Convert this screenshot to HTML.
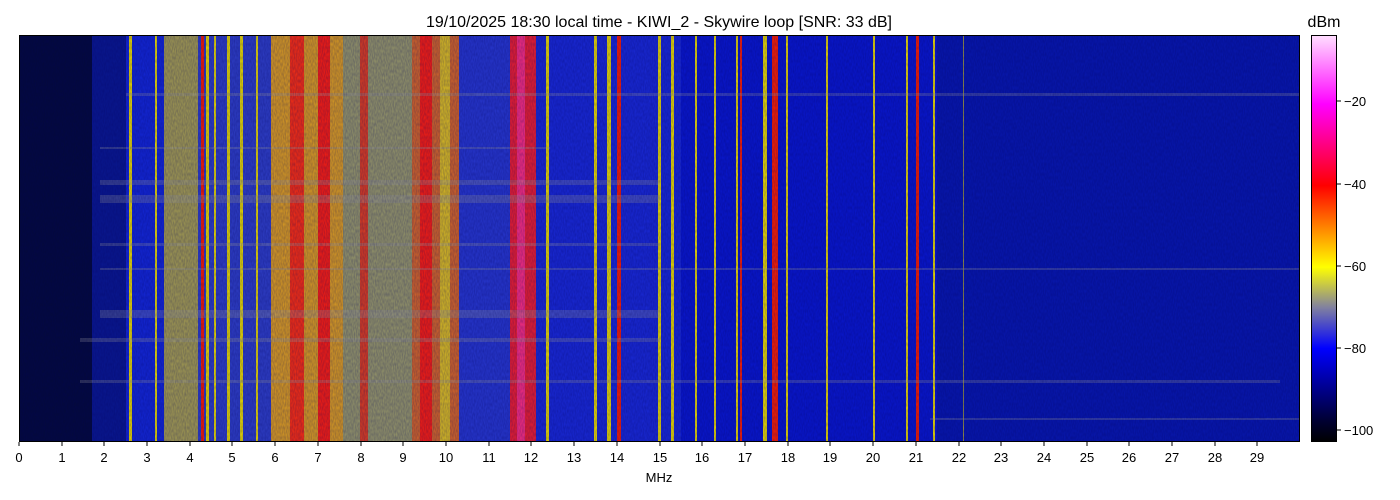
<!DOCTYPE html>
<html><head><meta charset="utf-8"><style>
html,body{margin:0;padding:0;background:#fff;font-family:"Liberation Sans","DejaVu Sans",sans-serif;}
svg{display:block;}
</style></head><body>
<svg width="1400" height="500" xmlns="http://www.w3.org/2000/svg" font-family="Liberation Sans, DejaVu Sans, sans-serif">
<defs>
<linearGradient id="cb" x1="0" y1="1" x2="0" y2="0">
<stop offset="0" stop-color="#000000"/>
<stop offset="0.05" stop-color="#000030"/>
<stop offset="0.23" stop-color="#0000ff"/>
<stop offset="0.33" stop-color="#8080a0"/>
<stop offset="0.43" stop-color="#ffff00"/>
<stop offset="0.53" stop-color="#ff8000"/>
<stop offset="0.63" stop-color="#ff0000"/>
<stop offset="0.73" stop-color="#ff0080"/>
<stop offset="0.83" stop-color="#ff00ff"/>
<stop offset="1" stop-color="#ffe0ff"/>
</linearGradient>
<filter id="n" filterUnits="userSpaceOnUse" x="19" y="35" width="1281" height="407"><feTurbulence type="fractalNoise" baseFrequency="0.9 0.3" numOctaves="1" seed="3"/><feColorMatrix values="0 0 0 0 0  0 0 0 0 0  0 0 0 0 0.1  0 0 0 0.4 0"/></filter>
<clipPath id="pc"><rect x="19" y="35" width="1281" height="407"/></clipPath>
</defs>
<text x="659" y="27" font-size="16" text-anchor="middle">19/10/2025 18:30 local time - KIWI_2 - Skywire loop [SNR: 33 dB]</text>
<text x="1324" y="27" font-size="16" text-anchor="middle">dBm</text>
<g clip-path="url(#pc)">
<rect x="19" y="35" width="1281" height="407" fill="#0818b8"/>
<rect x="19" y="35" width="73" height="407" fill="#040a3a"/>
<rect x="92" y="35" width="34" height="407" fill="#0a1890"/>
<rect x="126" y="35" width="39" height="407" fill="#1428d8"/>
<rect x="164" y="35" width="35" height="407" fill="#a8a050"/>
<rect x="198" y="35" width="73" height="407" fill="#3040c8"/>
<rect x="271" y="35" width="73" height="407" fill="#e0a020"/>
<rect x="343" y="35" width="69" height="407" fill="#9a9a68"/>
<rect x="412" y="35" width="47" height="407" fill="#d86828"/>
<rect x="459" y="35" width="51" height="407" fill="#2838d0"/>
<rect x="510" y="35" width="26" height="407" fill="#f02030"/>
<rect x="536" y="35" width="145" height="407" fill="#1a2ad8"/>
<rect x="681" y="35" width="256" height="407" fill="#0a18d0"/>
<rect x="937" y="35" width="363" height="407" fill="#0818b0"/>
<rect x="290" y="35" width="14" height="407" fill="#ff3010"/>
<rect x="318" y="35" width="12" height="407" fill="#ff2010"/>
<rect x="360" y="35" width="8" height="407" fill="#e04020"/>
<rect x="420" y="35" width="12" height="407" fill="#ff2010"/>
<rect x="440" y="35" width="10" height="407" fill="#e0c020"/>
<rect x="517" y="35" width="8" height="407" fill="#ff3080"/>
<g fill="#f0e000">
<rect x="129" y="35" width="3" height="407"/><rect x="155" y="35" width="2" height="407"/>
<rect x="206" y="35" width="3" height="407"/><rect x="214" y="35" width="2" height="407"/>
<rect x="227" y="35" width="3" height="407"/><rect x="240" y="35" width="3" height="407"/>
<rect x="256" y="35" width="2" height="407"/><rect x="546" y="35" width="3" height="407"/>
<rect x="594" y="35" width="3" height="407"/><rect x="607" y="35" width="4" height="407"/>
<rect x="658" y="35" width="3" height="407"/><rect x="671" y="35" width="3" height="407"/>
<rect x="695" y="35" width="2" height="407"/><rect x="714" y="35" width="2" height="407"/>
<rect x="736" y="35" width="2" height="407"/><rect x="763" y="35" width="4" height="407"/>
<rect x="786" y="35" width="2" height="407"/><rect x="826" y="35" width="2" height="407"/>
<rect x="873" y="35" width="2" height="407"/><rect x="906" y="35" width="2" height="407"/>
<rect x="933" y="35" width="2" height="407"/><rect x="963" y="35" width="1" height="407" opacity="0.6"/>
</g>
<g fill="#ff2000">
<rect x="201" y="35" width="3" height="407"/><rect x="617" y="35" width="4" height="407"/>
<rect x="772" y="35" width="6" height="407"/><rect x="916" y="35" width="3" height="407"/>
<rect x="740" y="35" width="2" height="407"/>
</g>
<g fill="#a0a0a0" opacity="0.3">
<rect x="126" y="93" width="1174" height="3"/>
<rect x="100" y="147" width="450" height="2"/>
<rect x="100" y="180" width="560" height="5"/>
<rect x="100" y="195" width="560" height="8"/>
<rect x="100" y="243" width="560" height="3"/>
<rect x="100" y="268" width="1200" height="2"/>
<rect x="100" y="310" width="560" height="8"/>
<rect x="80" y="338" width="580" height="4"/>
<rect x="80" y="380" width="1200" height="3"/>
<rect x="930" y="418" width="370" height="2"/>
</g>
<rect x="19" y="35" width="1281" height="407" filter="url(#n)"/>
</g>
<rect x="19.5" y="35.5" width="1280" height="406" fill="none" stroke="#000" stroke-width="1"/>
<g font-size="13" text-anchor="middle">
<g stroke="#000">
<line x1="19" y1="442" x2="19" y2="446"/><line x1="62" y1="442" x2="62" y2="446"/><line x1="104" y1="442" x2="104" y2="446"/><line x1="147" y1="442" x2="147" y2="446"/><line x1="190" y1="442" x2="190" y2="446"/><line x1="232" y1="442" x2="232" y2="446"/><line x1="275" y1="442" x2="275" y2="446"/><line x1="318" y1="442" x2="318" y2="446"/><line x1="361" y1="442" x2="361" y2="446"/><line x1="403" y1="442" x2="403" y2="446"/><line x1="446" y1="442" x2="446" y2="446"/><line x1="489" y1="442" x2="489" y2="446"/><line x1="531" y1="442" x2="531" y2="446"/><line x1="574" y1="442" x2="574" y2="446"/><line x1="617" y1="442" x2="617" y2="446"/><line x1="660" y1="442" x2="660" y2="446"/><line x1="702" y1="442" x2="702" y2="446"/><line x1="745" y1="442" x2="745" y2="446"/><line x1="788" y1="442" x2="788" y2="446"/><line x1="830" y1="442" x2="830" y2="446"/><line x1="873" y1="442" x2="873" y2="446"/><line x1="916" y1="442" x2="916" y2="446"/><line x1="959" y1="442" x2="959" y2="446"/><line x1="1001" y1="442" x2="1001" y2="446"/><line x1="1044" y1="442" x2="1044" y2="446"/><line x1="1087" y1="442" x2="1087" y2="446"/><line x1="1129" y1="442" x2="1129" y2="446"/><line x1="1172" y1="442" x2="1172" y2="446"/><line x1="1215" y1="442" x2="1215" y2="446"/><line x1="1257" y1="442" x2="1257" y2="446"/>
</g>
<text x="19" y="462">0</text><text x="62" y="462">1</text><text x="104" y="462">2</text><text x="147" y="462">3</text><text x="190" y="462">4</text><text x="232" y="462">5</text><text x="275" y="462">6</text><text x="318" y="462">7</text><text x="361" y="462">8</text><text x="403" y="462">9</text><text x="446" y="462">10</text><text x="489" y="462">11</text><text x="531" y="462">12</text><text x="574" y="462">13</text><text x="617" y="462">14</text><text x="660" y="462">15</text><text x="702" y="462">16</text><text x="745" y="462">17</text><text x="788" y="462">18</text><text x="830" y="462">19</text><text x="873" y="462">20</text><text x="916" y="462">21</text><text x="959" y="462">22</text><text x="1001" y="462">23</text><text x="1044" y="462">24</text><text x="1087" y="462">25</text><text x="1129" y="462">26</text><text x="1172" y="462">27</text><text x="1215" y="462">28</text><text x="1257" y="462">29</text>
<text x="659" y="482">MHz</text>
</g>
<rect x="1311" y="35" width="26" height="407" fill="url(#cb)"/>
<rect x="1311.5" y="35.5" width="25" height="406" fill="none" stroke="#000"/>
<g stroke="#000">
<line x1="1337" y1="101" x2="1341" y2="101"/><line x1="1337" y1="184" x2="1341" y2="184"/><line x1="1337" y1="266" x2="1341" y2="266"/><line x1="1337" y1="348" x2="1341" y2="348"/><line x1="1337" y1="430" x2="1341" y2="430"/>
</g>
<g font-size="13">
<text x="1344" y="106">−20</text><text x="1344" y="189">−40</text><text x="1344" y="271">−60</text><text x="1344" y="353">−80</text><text x="1344" y="435">−100</text>
</g>
</svg>
</body></html>
